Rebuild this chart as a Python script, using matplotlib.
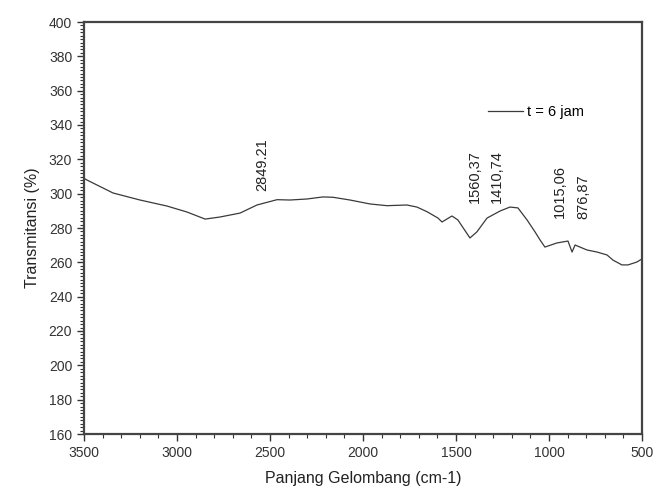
import numpy as np
import matplotlib.pyplot as plt
from matplotlib.ticker import MultipleLocator

plt.rcParams['font.family'] = ['Liberation Sans', 'DejaVu Sans']

# FTIR spectrum
wavenumber = [3500, 3485, 3344, 3199, 3054, 2946, 2849, 2769, 2661, 2570,
              2462, 2393, 2301, 2215, 2161, 2070, 1962, 1871, 1764, 1710,
              1656, 1597, 1575, 1522, 1490, 1425, 1388, 1333, 1263, 1210,
              1167, 1118, 1075, 1048, 1022, 957, 898, 876, 860, 796,
              742, 688, 656, 608, 575, 527, 500]
transmit = [309.0, 308.0, 300.4, 296.3, 292.8, 289.3, 285.2, 286.4, 288.7, 293.4,
            296.5, 296.3, 296.9, 298.1, 297.9, 296.3, 294.0, 293.0, 293.4, 292.2,
            289.5, 285.8, 283.5, 287.0, 284.7, 274.2, 277.7, 285.8, 289.9, 292.2,
            291.7, 284.7, 277.7, 273.0, 268.9, 271.3, 272.4, 266.0, 270.1, 267.2,
            266.0, 264.3, 261.3, 258.5, 258.5, 260.2, 262.0]

peak_labels = ['2849.21', '1560,37', '1410,74', '1015,06', '876,87']
peak_x = [2543, 1398, 1280, 941, 817]
peak_y = [317, 310, 310, 301, 298]

fig = plt.figure(figsize=(6.57, 4.92), dpi=100)
ax = fig.add_axes([84 / 657, 1 - 434 / 492, 558 / 657, 412 / 492])

ax.plot(wavenumber, transmit, color='#3a3a3a', linewidth=0.9, label='t = 6 jam')

for lab, x, y in zip(peak_labels, peak_x, peak_y):
    ax.text(x, y, lab, rotation=90, ha='center', va='center', fontsize=10.5, color='#222222')

ax.set_xlim(3500, 500)
ax.set_ylim(160, 400)
ax.xaxis.set_major_locator(MultipleLocator(500))
ax.xaxis.set_minor_locator(MultipleLocator(100))
ax.yaxis.set_major_locator(MultipleLocator(20))
ax.yaxis.set_minor_locator(MultipleLocator(2))
ax.tick_params(which='major', direction='out', length=5, width=1, labelsize=10, colors='#333333')
ax.tick_params(which='minor', direction='out', length=3, width=0.8, colors='#333333')
ax.tick_params(top=False, right=False)

for side in ['left', 'bottom', 'top', 'right']:
    ax.spines[side].set_linewidth(1.6)
    ax.spines[side].set_color('#444444')

ax.set_xlabel('Panjang Gelombang (cm-1)', fontsize=11.5, color='#222222', labelpad=8)
ax.set_ylabel('Transmitansi (%)', fontsize=11.5, color='#222222', labelpad=6)

ax.legend(loc='upper left', bbox_to_anchor=(0.7, 0.83), frameon=False, fontsize=10.5,
          handlelength=2.4, handletextpad=0.3)

fig.savefig('out.png', dpi=100)
